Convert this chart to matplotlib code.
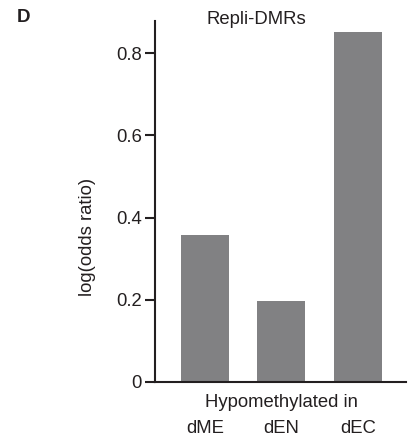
import numpy as np
import matplotlib.pyplot as plt

plt.rcParams['font.family'] = ['Liberation Sans', 'DejaVu Sans']

# enrichment of repli-DMRs by hypomethylated lineage
groups = ['dME', 'dEN', 'dEC']
log_odds = [0.358, 0.198, 0.852]

ink = '#231f20'
bar_color = '#818183'
fs = 13.3

fig = plt.figure(figsize=(4.15, 4.38), dpi=100)
ax = fig.add_axes([0.3735, 0.128, 0.6045, 0.824])

x = np.arange(len(groups))
ax.bar(x, log_odds, width=0.626, color=bar_color)

ax.set_xlim(-0.652, 2.626)
ax.set_ylim(0, 0.878)
ax.set_yticks([0, 0.2, 0.4, 0.6, 0.8])
ax.set_yticklabels(['0', '0.2', '0.4', '0.6', '0.8'])
ax.set_xticks([])

for side in ['top', 'right']:
    ax.spines[side].set_visible(False)
for side in ['left', 'bottom']:
    ax.spines[side].set_linewidth(1.5)
    ax.spines[side].set_color(ink)

ax.tick_params(axis='y', direction='out', length=7.5, width=1.5,
               color=ink, labelcolor=ink, labelsize=fs, pad=2)

# group labels under the axis
for xi, g in zip(x, groups):
    ax.text(xi, -0.113, g, ha='center', va='center', fontsize=fs, color=ink)
ax.text(1, -0.049, 'Hypomethylated in', ha='center', va='center',
        fontsize=fs, color=ink)

fig.text(87 / 415, 1 - 237 / 438, 'log(odds ratio)', rotation=90,
         ha='center', va='center', fontsize=fs, color=ink)
fig.text(256 / 415, 1 - 19 / 438, 'Repli-DMRs', ha='center', va='center',
         fontsize=fs, color=ink)
fig.text(23 / 415, 1 - 17 / 438, 'D', ha='center', va='center',
         fontsize=13.5, fontweight='bold', color=ink)

fig.savefig('out.png', dpi=100)
